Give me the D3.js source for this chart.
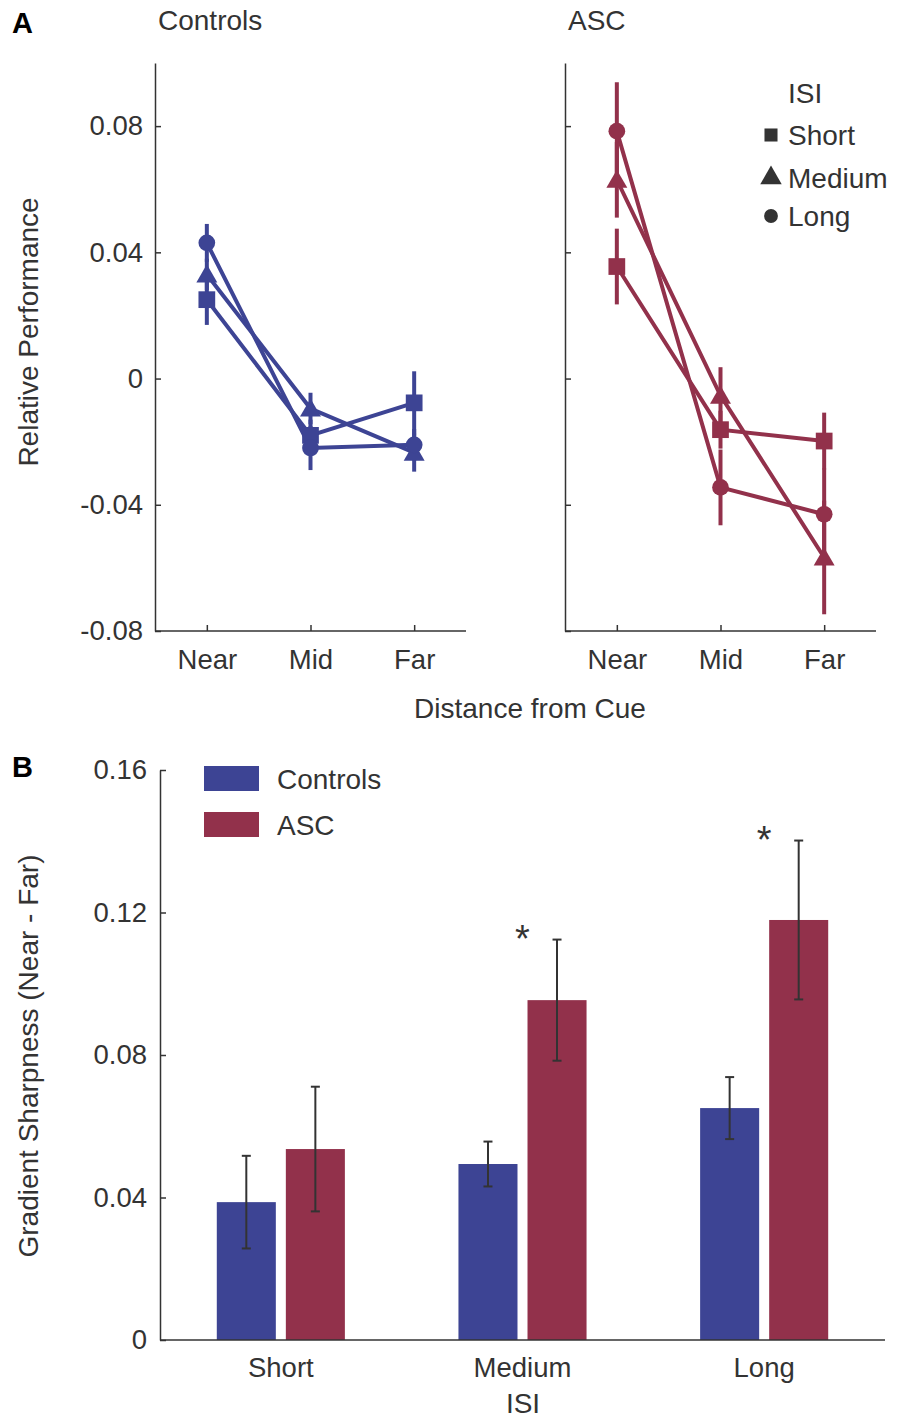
<!DOCTYPE html>
<html>
<head>
<meta charset="utf-8">
<script src="https://cdn.jsdelivr.net/npm/d3@7"></script>
<style>
  body { margin: 0; background: #fff; }
  svg { display: block; font-family: "Liberation Sans", Arial, Helvetica, sans-serif; }
  .axis text { font-size: 27.5px; fill: #333; }
  .axis path, .axis line { stroke: #333; stroke-width: 1.5; }
</style>
</head>
<body>
<svg width="899" height="1420"></svg>
<script>
// ---- data ----
const distances = ["Near", "Mid", "Far"];
const isiLevels = ["Short", "Medium", "Long"];
const groups = ["Controls", "ASC"];

// panel A: relative performance, per ISI over Near/Mid/Far
const controlsShort = [0.025, -0.018, -0.0077];
const controlsShortErr = [0.008, 0.005, 0.010];
const controlsMedium = [0.033, -0.0095, -0.0235];
const controlsMediumErr = [0.005, 0.005, 0.006];
const controlsLong = [0.043, -0.022, -0.021];
const controlsLongErr = [0.006, 0.007, 0.005];

const ascShort = [0.0355, -0.0162, -0.0198];
const ascShortErr = [0.012, 0.006, 0.009];
const ascMedium = [0.063, -0.0054, -0.0567];
const ascMediumErr = [0.012, 0.009, 0.018];
const ascLong = [0.0784, -0.0345, -0.043];
const ascLongErr = [0.0155, 0.012, 0.0145];

const perfTicks = [0.08, 0.04, 0, -0.04, -0.08];

// panel B: gradient sharpness (Near - Far)
const sharpControls = [0.0387, 0.0494, 0.0651];
const sharpControlsErr = [0.013, 0.0063, 0.0087];
const sharpASC = [0.0536, 0.0954, 0.1179];
const sharpASCErr = [0.0175, 0.017, 0.0223];
const significant = [false, true, true];
const sharpTicks = [0, 0.04, 0.08, 0.12, 0.16];

const blue = "#3d4494";
const red = "#92314b";
const ink = "#333";
const fs = "28px";

const fmt = (d) => (d === 0 ? "0" : d3.format(".2f")(d).replace("\u2212", "-"));

const svg = d3.select("svg");

// panel letters
svg.append("text").attr("x", 12).attr("y", 33).text("A")
  .style("font-size", "29px").style("font-weight", "bold").attr("fill", "#000");
svg.append("text").attr("x", 12).attr("y", 777).text("B")
  .style("font-size", "29px").style("font-weight", "bold").attr("fill", "#000");

// ---- panel A ----
const yPerf = d3.scaleLinear().domain([-0.08, 0.1]).range([631, 63]);

const symbolFor = {
  Short: d3.symbol().type(d3.symbolSquare).size(280),
  Medium: d3.symbol().type(d3.symbolTriangle).size(190),
  Long: d3.symbol().type(d3.symbolCircle).size(220),
};

const drawPanel = (x0, x1, title, series, color, showLabels) => {
  const x = d3.scalePoint().domain(distances).range([x0, x1]).padding(0.5);

  const yAxis = d3.axisLeft(yPerf).tickValues(perfTicks)
    .tickSize(-6).tickSizeOuter(0).tickPadding(12)
    .tickFormat(showLabels ? fmt : () => "");
  svg.append("g").attr("class", "axis")
    .attr("transform", `translate(${x0},0)`).call(yAxis);

  const xAxis = d3.axisBottom(x).tickSize(-6).tickSizeOuter(0).tickPadding(18);
  const gx = svg.append("g").attr("class", "axis")
    .attr("transform", `translate(0,631)`).call(xAxis);
  gx.select(".domain").attr("d", `M${x0},0H${x1}`);

  svg.append("text").attr("x", x0 + 3).attr("y", 30).text(title)
    .style("font-size", fs).attr("fill", ink);

  const line = d3.line().x((d, i) => x(distances[i])).y((d) => yPerf(d));
  const g = svg.append("g");

  series.forEach((s) => {
    g.append("path").datum(s.values).attr("d", line)
      .attr("fill", "none").attr("stroke", color).attr("stroke-width", 4);
  });
  series.forEach((s) => {
    g.selectAll(null).data(s.values).enter().append("line")
      .attr("x1", (d, i) => x(distances[i])).attr("x2", (d, i) => x(distances[i]))
      .attr("y1", (d, i) => yPerf(d + s.err[i])).attr("y2", (d, i) => yPerf(d - s.err[i]))
      .attr("stroke", color).attr("stroke-width", 4);
  });
  series.forEach((s) => {
    g.selectAll(null).data(s.values).enter().append("path")
      .attr("d", symbolFor[s.isi])
      .attr("transform", (d, i) => `translate(${x(distances[i])},${yPerf(d) + (s.isi === "Medium" ? 2 : 0)})`)
      .attr("fill", color);
  });
};

drawPanel(155, 466, "Controls", [
  { isi: "Short", values: controlsShort, err: controlsShortErr },
  { isi: "Medium", values: controlsMedium, err: controlsMediumErr },
  { isi: "Long", values: controlsLong, err: controlsLongErr },
], blue, true);

drawPanel(565, 876, "ASC", [
  { isi: "Short", values: ascShort, err: ascShortErr },
  { isi: "Medium", values: ascMedium, err: ascMediumErr },
  { isi: "Long", values: ascLong, err: ascLongErr },
], red, false);

// ISI legend
const isiLegend = svg.append("g").attr("transform", "translate(769,0)");
isiLegend.append("text").attr("x", 19).attr("y", 103).text("ISI")
  .style("font-size", fs).attr("fill", ink);
const legendSymbol = {
  Short: d3.symbol().type(d3.symbolSquare).size(170),
  Medium: d3.symbol().type(d3.symbolTriangle).size(200),
  Long: d3.symbol().type(d3.symbolCircle).size(150),
};
isiLevels.forEach((lvl, i) => {
  const cy = [135, 178, 216][i];
  isiLegend.append("path").attr("d", legendSymbol[lvl])
    .attr("transform", `translate(2,${cy})`).attr("fill", ink);
  isiLegend.append("text").attr("x", 19).attr("y", cy + 10).text(lvl)
    .style("font-size", fs).attr("fill", ink);
});

svg.append("text").attr("x", 530).attr("y", 718).attr("text-anchor", "middle")
  .text("Distance from Cue").style("font-size", fs).attr("fill", ink);

svg.append("text").attr("transform", "translate(38,332) rotate(-90)")
  .attr("text-anchor", "middle").text("Relative Performance")
  .style("font-size", fs).attr("fill", ink);

// ---- panel B ----
const yS = d3.scaleLinear().domain([0, 0.16]).range([1340, 770]);
const xG = d3.scaleBand().domain(isiLevels).range([160, 885])
  .paddingInner(0.47).paddingOuter(0.235);
const xB = d3.scaleBand().domain(groups).range([0, xG.bandwidth()]).paddingInner(0.145);

const barData = isiLevels.flatMap((lvl, i) => [
  { isi: lvl, group: "Controls", value: sharpControls[i], err: sharpControlsErr[i] },
  { isi: lvl, group: "ASC", value: sharpASC[i], err: sharpASCErr[i] },
]);
const colorOf = { Controls: blue, ASC: red };

const gb = svg.append("g");
gb.selectAll("rect").data(barData).enter().append("rect")
  .attr("x", (d) => xG(d.isi) + xB(d.group))
  .attr("y", (d) => yS(d.value))
  .attr("width", xB.bandwidth())
  .attr("height", (d) => yS(0) - yS(d.value))
  .attr("fill", (d) => colorOf[d.group]);

const errG = gb.selectAll(".err").data(barData).enter().append("g")
  .attr("transform", (d) => `translate(${xG(d.isi) + xB(d.group) + xB.bandwidth() / 2},0)`);
errG.append("line").attr("y1", (d) => yS(d.value + d.err)).attr("y2", (d) => yS(d.value - d.err))
  .attr("stroke", ink).attr("stroke-width", 2);
errG.append("line").attr("x1", -4.5).attr("x2", 4.5)
  .attr("y1", (d) => yS(d.value + d.err)).attr("y2", (d) => yS(d.value + d.err))
  .attr("stroke", ink).attr("stroke-width", 2);
errG.append("line").attr("x1", -4.5).attr("x2", 4.5)
  .attr("y1", (d) => yS(d.value - d.err)).attr("y2", (d) => yS(d.value - d.err))
  .attr("stroke", ink).attr("stroke-width", 2);

// significance stars
isiLevels.forEach((lvl, i) => {
  if (!significant[i]) return;
  svg.append("text")
    .attr("x", xG(lvl) + xG.bandwidth() / 2)
    .attr("y", yS(sharpASC[i] + sharpASCErr[i]) + 12)
    .attr("text-anchor", "middle").text("*")
    .style("font-size", "38px").attr("fill", ink);
});

const ySAxis = d3.axisLeft(yS).tickValues(sharpTicks).tickSize(-6).tickSizeOuter(0)
  .tickPadding(13).tickFormat(fmt);
svg.append("g").attr("class", "axis").attr("transform", "translate(160,0)").call(ySAxis);

const xSAxis = d3.axisBottom(xG).tickSize(0).tickSizeOuter(0).tickPadding(17);
const gxs = svg.append("g").attr("class", "axis").attr("transform", "translate(0,1340)").call(xSAxis);
gxs.select(".domain").attr("d", "M160,0H885");

svg.append("text").attr("x", 523).attr("y", 1413).attr("text-anchor", "middle")
  .text("ISI").style("font-size", fs).attr("fill", ink);

svg.append("text").attr("transform", "translate(38,1056) rotate(-90)")
  .attr("text-anchor", "middle").text("Gradient Sharpness (Near - Far)")
  .style("font-size", fs).attr("fill", ink);

// group legend
const lg = svg.append("g").attr("transform", "translate(204,766)");
groups.forEach((grp, i) => {
  lg.append("rect").attr("x", 0).attr("y", i * 46).attr("width", 55).attr("height", 25)
    .attr("fill", colorOf[grp]);
  lg.append("text").attr("x", 73).attr("y", i * 46 + 23).text(grp)
    .style("font-size", fs).attr("fill", ink);
});
</script>
</body>
</html>
